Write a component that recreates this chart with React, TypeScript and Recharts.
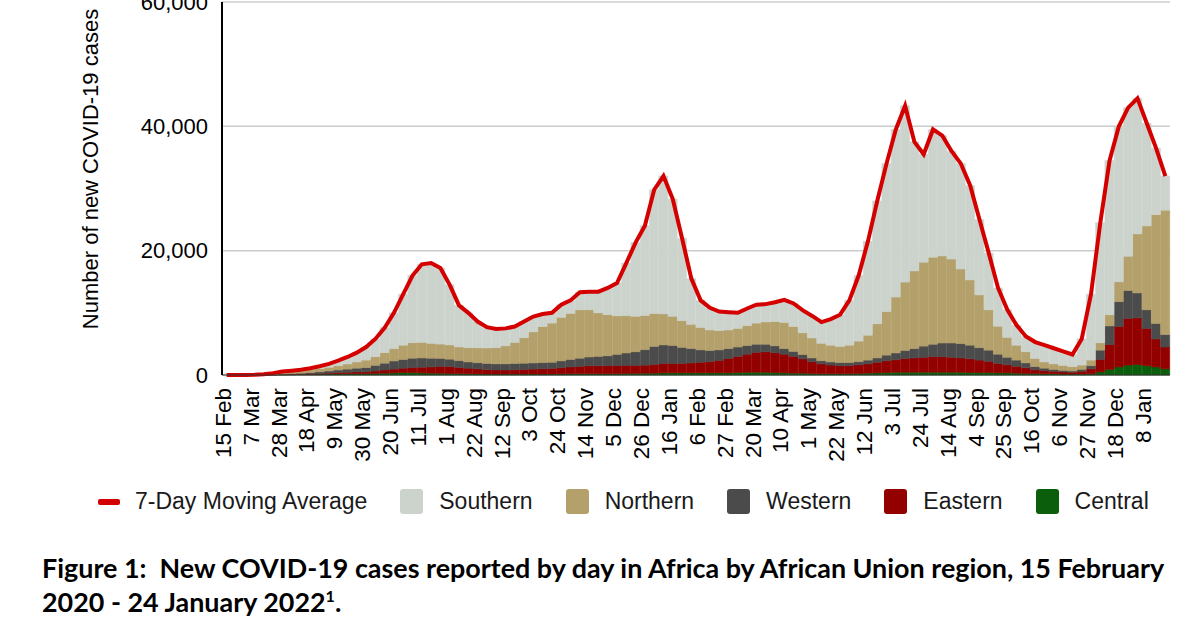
import { ComposedChart, Bar, Line, XAxis, YAxis, CartesianGrid } from 'recharts'

// weekly values (cases per day, averaged over each week), week 0 = 15 Feb 2020
const central = [
    0, 0, 0, 2, 10, 20, 40, 60, 80, 100,
    130, 150, 180, 200, 200, 200, 250, 300, 350, 400,
    400, 350, 300, 280, 250, 220, 200, 180, 160, 150,
    150, 150, 150, 150, 150, 150, 180, 200, 200, 200,
    200, 200, 220, 250, 250, 280, 300, 350, 350, 350,
    350, 350, 350, 350, 350, 400, 450, 450, 450, 400,
    350, 300, 300, 250, 200, 200, 200, 200, 250, 300,
    350, 400, 450, 450, 450, 450, 450, 450, 450, 450,
    400, 400, 400, 350, 350, 300, 250, 250, 200, 200,
    150, 150, 150, 200, 500, 900, 1300, 1600, 1700, 1500,
    1300, 1000,
]

const eastern = [
    0, 0, 0, 0, 10, 20, 40, 50, 60, 90,
    110, 150, 200, 250, 300, 300, 400, 500, 600, 700,
    800, 900, 1000, 1100, 1100, 1000, 900, 800, 700, 650,
    650, 700, 750, 800, 850, 900, 1000, 1100, 1200, 1300,
    1300, 1300, 1300, 1300, 1300, 1300, 1400, 1500, 1500, 1500,
    1600, 1700, 1800, 2000, 2300, 2600, 2900, 3200, 3300, 3200,
    3000, 2700, 2300, 1900, 1600, 1400, 1300, 1300, 1400, 1500,
    1700, 1900, 2000, 2200, 2300, 2400, 2500, 2500, 2400, 2300,
    2200, 2000, 1800, 1500, 1300, 1100, 900, 600, 500, 400,
    350, 300, 450, 800, 2000, 4000, 6500, 7500, 7500, 6000,
    4500, 3500,
]

const western = [
    0, 0, 2, 5, 20, 40, 80, 120, 150, 200,
    270, 350, 420, 500, 600, 700, 900, 1100, 1300, 1400,
    1500, 1500, 1400, 1300, 1200, 1100, 1000, 1000, 1000, 1000,
    1000, 1000, 1000, 1000, 1000, 1000, 1100, 1200, 1300, 1400,
    1500, 1600, 1800, 2000, 2200, 2500, 2900, 3000, 2900, 2600,
    2300, 2000, 1800, 1700, 1600, 1500, 1400, 1300, 1200, 1100,
    900, 800, 700, 600, 500, 500, 500, 500, 500, 600,
    700, 900, 1100, 1300, 1500, 1800, 2000, 2200, 2300, 2300,
    2200, 2000, 1800, 1500, 1200, 1000, 800, 500, 400, 300,
    250, 200, 300, 500, 1500, 3000, 4000, 4500, 4000, 3000,
    2500, 2000,
]

const northern = [
    0, 2, 8, 25, 60, 140, 230, 290, 350, 450,
    520, 600, 700, 830, 1000, 1200, 1400, 1700, 2000, 2300,
    2500, 2500, 2400, 2300, 2300, 2200, 2300, 2400, 2500, 2600,
    2900, 3400, 4100, 5000, 5800, 6300, 7000, 7400, 7800, 7600,
    7000, 6600, 6200, 6000, 5700, 5500, 5300, 5000, 4700, 4300,
    3900, 3600, 3300, 3100, 3000, 3000, 3200, 3400, 3600, 3900,
    4200, 4000, 3500, 3200, 2800, 2700, 2600, 2800, 3300, 4000,
    5500, 7000, 9000, 11000, 12500, 13500, 14000, 14000, 13500, 12000,
    10500, 8500, 6500, 4500, 3200, 2400, 1800, 1300, 1000, 900,
    800, 700, 700, 900, 1200, 1800, 3200, 5500, 9500, 13500,
    17500, 20000,
]

const southern = [
    0, 0, 0, 8, 20, 80, 160, 180, 210, 260,
    370, 550, 800, 1120, 1500, 2100, 2850, 4000, 5750, 8200,
    10800, 12550, 12900, 12220, 9650, 6680, 5600, 4220, 3340, 3000,
    2800, 2550, 2600, 2450, 2000, 1650, 2020, 2100, 2800, 2900,
    3400, 4300, 5280, 8450, 11850, 14420, 19900, 22150, 18850, 13250,
    7350, 4350, 3550, 3050, 2850, 2500, 2750, 2950, 2850, 3100,
    3650, 3700, 3600, 3550, 3400, 4200, 5100, 7200, 10550, 15100,
    19750, 23800, 26950, 28350, 20750, 17350, 20550, 19350, 17350, 16950,
    15200, 12100, 9100, 6150, 4450, 3200, 2450, 2650, 2700, 2500,
    2250, 1950, 4200, 10600, 19300, 24800, 25000, 23900, 21800, 16500,
    10700, 5500,
]

const movingAverage = [
    0, 2, 10, 40, 120, 300, 550, 700, 850, 1100,
    1400, 1800, 2300, 2900, 3600, 4500, 5800, 7600, 10000, 13000,
    16000, 17800, 18000, 17200, 14500, 11200, 10000, 8600, 7700, 7400,
    7500, 7800, 8600, 9400, 9800, 10000, 11300, 12000, 13300, 13400,
    13400, 14000, 14800, 18000, 21300, 24000, 29800, 32000, 28300, 22000,
    15500, 12000, 10800, 10200, 10100, 10000, 10700, 11300, 11400, 11700,
    12100, 11500, 10400, 9500, 8500, 9000, 9700, 12000, 16000, 21500,
    28000, 34000, 39500, 43300, 37500, 35500, 39500, 38500, 36000, 34000,
    30500, 25000, 19600, 14000, 10500, 8000, 6200, 5300, 4800, 4300,
    3800, 3300, 5800, 13000, 24500, 34500, 40000, 43000, 44500, 40500,
    36500, 32000,
]

// one label every third week
const tickLabels = [
    '15 Feb', '7 Mar', '28 Mar', '18 Apr', '9 May', '30 May', '20 Jun', '11 Jul', '1 Aug',
    '22 Aug', '12 Sep', '3 Oct', '24 Oct', '14 Nov', '5 Dec', '26 Dec', '16 Jan', '6 Feb',
    '27 Feb', '20 Mar', '10 Apr', '1 May', '22 May', '12 Jun', '3 Jul', '24 Jul', '14 Aug',
    '4 Sep', '25 Sep', '16 Oct', '6 Nov', '27 Nov', '18 Dec', '8 Jan',
]

const yTicks = [0, 20000, 40000, 60000]

const colors = {
    ma: '#d40000',
    southern: '#ccd3cc',
    northern: '#b4a06a',
    western: '#4b4b4b',
    eastern: '#930000',
    central: '#0b5e0b',
}

const data = movingAverage.map((ma, i) => ({
    week: i,
    central: central[i],
    eastern: eastern[i],
    western: western[i],
    northern: northern[i],
    southern: southern[i],
    ma,
}))

const legendItems = [
    { label: 'Southern', color: colors.southern },
    { label: 'Northern', color: colors.northern },
    { label: 'Western', color: colors.western },
    { label: 'Eastern', color: colors.eastern },
    { label: 'Central', color: colors.central },
]

const stackOrder: (keyof typeof colors)[] = ['central', 'eastern', 'western', 'northern', 'southern']

// the chart sits 20px above the page so the 60,000 line is cut like in the source figure
const SHIFT = 20

function DateTick({ x, y, payload }: any) {
    return (
        <g transform={`translate(${x - 4},${y})`}>
            <text transform="rotate(-90)" textAnchor="end" dy="0.36em" fontSize={22.5} fill="#000">
                {tickLabels[payload.value / 3]}
            </text>
        </g>
    )
}

function YTitle() {
    const cx = 98
    const cy = 169 + SHIFT
    return (
        <text x={cx} y={cy} transform={`rotate(-90, ${cx}, ${cy})`} textAnchor="middle" fontSize={22} fill="#000">
            Number of new COVID-19 cases
        </text>
    )
}

export default function App() {
    return (
        <div
            style={{
                position: 'absolute',
                left: 0,
                top: 0,
                width: 1200,
                height: 628,
                background: '#fff',
                overflow: 'hidden',
                fontFamily: '"Liberation Sans", Arial, sans-serif',
            }}
        >
            <div style={{ position: 'absolute', left: 0, top: -SHIFT }}>
                <ComposedChart
                    width={1200}
                    height={480 + SHIFT}
                    data={data}
                    margin={{ top: 2 + SHIFT, right: 30, bottom: 5, left: 142 }}
                    barCategoryGap={0}
                    barGap={0}
                >
                    <CartesianGrid vertical={false} stroke="#cccccc" strokeWidth={1.5} />
                    <XAxis
                        dataKey="week"
                        interval={2}
                        height={100}
                        tickLine={false}
                        tickSize={0}
                        tickMargin={13}
                        axisLine={{ stroke: '#333' }}
                        tick={<DateTick />}
                    />
                    <YAxis
                        domain={[0, 60000]}
                        ticks={yTicks}
                        width={80}
                        tickLine={false}
                        tickSize={0}
                        tickMargin={14}
                        axisLine={{ stroke: '#000', strokeWidth: 2 }}
                        tick={{ fill: '#000', fontSize: 22 }}
                        tickFormatter={(v) => v.toLocaleString('en-US')}
                        label={<YTitle />}
                    />
                    {stackOrder.map((key) => (
                        <Bar
                            key={key}
                            dataKey={key}
                            stackId="a"
                            fill={colors[key]}
                            stroke={colors[key]}
                            strokeWidth={0.6}
                            isAnimationActive={false}
                        />
                    ))}
                    <Line
                        type="linear"
                        dataKey="ma"
                        stroke={colors.ma}
                        strokeWidth={4}
                        dot={false}
                        isAnimationActive={false}
                    />
                </ComposedChart>
            </div>

            <div
                style={{
                    position: 'absolute',
                    top: 489,
                    left: 98,
                    height: 25,
                    display: 'flex',
                    alignItems: 'center',
                    fontSize: 23,
                    color: '#1a1a1a',
                    whiteSpace: 'nowrap',
                }}
            >
                <span style={{ width: 22, height: 6, borderRadius: 2, background: colors.ma }} />
                <span style={{ marginLeft: 15, marginRight: 33 }}>7-Day Moving Average</span>
                {legendItems.map((item) => (
                    <span key={item.label} style={{ display: 'flex', alignItems: 'center' }}>
                        <span style={{ width: 23, height: 25, borderRadius: 3, background: item.color }} />
                        <span style={{ marginLeft: 16, marginRight: 33 }}>{item.label}</span>
                    </span>
                ))}
            </div>

            <div
                style={{
                    position: 'absolute',
                    left: 42,
                    top: 551,
                    fontFamily: 'Lato, "Open Sans", sans-serif',
                    fontWeight: 700,
                    fontSize: 26.9,
                    lineHeight: '34px',
                    color: '#000',
                    whiteSpace: 'nowrap',
                }}
            >
                Figure 1:{'\u00a0 '}New COVID-19 cases reported by day in Africa by African Union region, 15 February
                <br />
                2020 - 24 January 2022<sup style={{ fontSize: 16, lineHeight: 0 }}>1</sup>.
            </div>
        </div>
    )
}
